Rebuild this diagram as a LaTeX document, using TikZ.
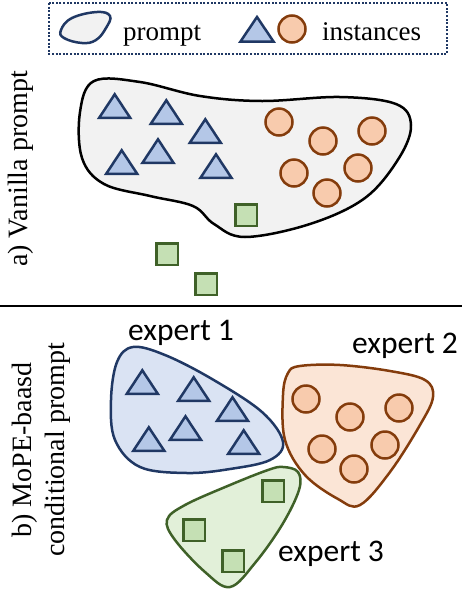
\documentclass[tikz,border=0pt]{standalone}
\usepackage{fontspec}
\setmainfont{Liberation Serif}
\newfontfamily\expfont{Carlito}
\definecolor{navy}{HTML}{203864}
\definecolor{triblue}{HTML}{B4C7E7}
\definecolor{brownc}{HTML}{843C0C}
\definecolor{peach}{HTML}{F8CBAD}
\definecolor{greenc}{HTML}{3F6128}
\definecolor{lgreen}{HTML}{C5E0B4}
\definecolor{blobgray}{HTML}{F2F2F2}
\definecolor{exblue}{HTML}{DAE3F3}
\definecolor{exorange}{HTML}{FBE5D6}
\definecolor{exgreen}{HTML}{E2F0D9}
\begin{document}
\begin{tikzpicture}[x=1pt,y=-1pt,
  tri/.style={draw=navy, fill=triblue, line width=2.5pt, line join=miter},
  circ/.style={draw=brownc, fill=peach, line width=2.5pt},
  sqr/.style={draw=greenc, fill=lgreen, line width=2.5pt},
  blob/.style={line width=2.5pt},
  serif/.style={font=\fontsize{27}{32}\selectfont, inner sep=0pt},
  sideserif/.style={font=\fontsize{28}{33}\selectfont, inner sep=0pt, rotate=90, align=center},
  exlabel/.style={font=\expfont\fontsize{31.5}{36}\selectfont, inner sep=0pt, anchor=base west}]
\useasboundingbox (0,0) rectangle (462,590);
% legend
\draw[navy, line width=2pt, dash pattern=on 2pt off 1.6pt] (49,3) rectangle (447,54);
\draw[blob, draw=navy, fill=blobgray] plot[smooth cycle, tension=0.7] coordinates {(61,30) (72,18) (97,12) (110,16) (106,28) (96,40) (82,43) (64,38)};
\node[serif, anchor=base west] (lgp) at (123,40) {prompt};
\draw[tri] (257,17) -- ++(16.5,24.5) -- ++(-33,0) -- cycle;
\draw[circ] (292,29) circle (13.5);
\node[serif, anchor=base west] (lgi) at (322,40) {instances};
% side labels
\node[sideserif] (la) at (21,169) {a) Vanilla prompt};
\node[sideserif] (lb) at (41,450) {b) MoPE-baasd\\conditional prompt};
% separator
\draw[line width=2pt] (0,306) -- (462,306);
% vanilla blob
\draw[blob, draw=black, fill=blobgray] plot[smooth cycle, tension=0.6] coordinates {(80,112) (94,81) (140,82) (200,96) (262,101) (340,97) (396,104) (411,125) (399,158) (365,198) (310,224) (245,237) (214,224) (193,206) (150,196) (104,184) (82,158)};
\foreach \x/\y in {114.7/92, 166.3/98, 205.3/117, 121.7/148, 158/137, 216/152}
  \draw[tri] (\x,\y+2.3) -- ++(15.5,23.5) -- ++(-31,0) -- cycle;
\foreach \x/\y in {279/122, 323/141, 372/131, 294/173, 358/168, 327/193}
  \draw[circ] (\x,\y) circle (13.5);
\foreach \x/\y in {246/215, 167/254, 206/284}
  \draw[sqr] (\x-10.75,\y-10.75) rectangle ++(21.5,21.5);
% expert blobs
\draw[blob, draw=navy, fill=exblue] plot[smooth cycle, tension=0.6] coordinates {(133,347) (165,355) (212,379) (262,412) (283,442) (270,460) (230,469) (187,473) (140,467) (115,440) (111,400) (117,362)};
\draw[blob, draw=brownc, fill=exorange] plot[smooth cycle, tension=0.6] coordinates {(300,366) (340,365) (390,371) (425,380) (433,397) (420,425) (390,472) (360,505) (338,499) (305,475) (285,440) (283,395) (288,373)};
\draw[blob, draw=greenc, fill=exgreen] plot[smooth cycle, tension=0.6] coordinates {(283,467) (298,472) (299,490) (282,525) (255,563) (230,587) (205,572) (175,540) (167,520) (185,505) (230,485) (268,470)};
\foreach \x/\y in {142.3/368, 193.7/375, 232.5/395, 148.8/425, 185.5/414, 243.7/428}
  \draw[tri] (\x,\y+2.3) -- ++(15.5,23.5) -- ++(-31,0) -- cycle;
\foreach \x/\y in {306/399, 350/417, 399/408, 322/449, 385/445, 354/469}
  \draw[circ] (\x,\y) circle (13.5);
\foreach \x/\y in {273/491, 194/530, 233/561}
  \draw[sqr] (\x-10.75,\y-10.75) rectangle ++(21.5,21.5);
% expert labels
\node[exlabel] (e1) at (128,340) {expert 1};
\node[exlabel] (e2) at (352,353) {expert 2};
\node[exlabel] (e3) at (278,561) {expert 3};
\end{tikzpicture}
\end{document}
